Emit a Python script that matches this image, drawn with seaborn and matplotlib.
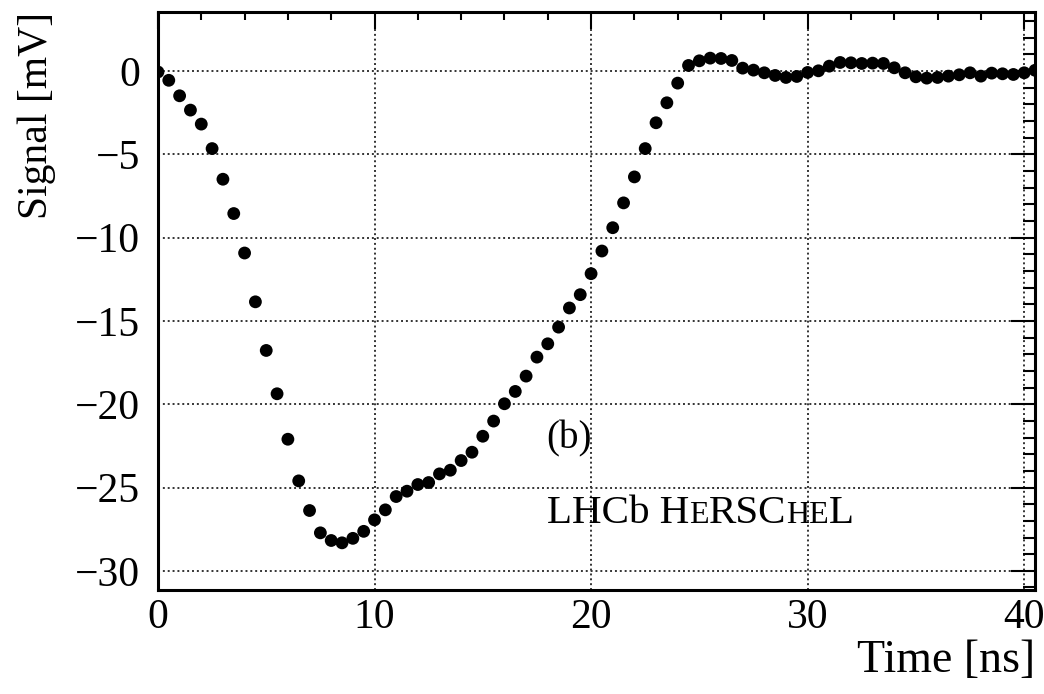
import matplotlib
matplotlib.use("Agg")
import matplotlib.pyplot as plt
from matplotlib.ticker import MultipleLocator
import seaborn as sns
import pandas as pd

# Digitised pulse: time (ns) and signal amplitude (mV)
time_ns = [
    0.0, 0.5, 1.0, 1.5, 2.0, 2.5, 3.0, 3.5, 4.0, 4.5,
    5.0, 5.5, 6.0, 6.5, 7.0, 7.5, 8.0, 8.5, 9.0, 9.5,
    10.0, 10.5, 11.0, 11.5, 12.0, 12.5, 13.0, 13.5, 14.0, 14.5,
    15.0, 15.5, 16.0, 16.5, 17.0, 17.5, 18.0, 18.5, 19.0, 19.5,
    20.0, 20.5, 21.0, 21.5, 22.0, 22.5, 23.0, 23.5, 24.0, 24.5,
    25.0, 25.5, 26.0, 26.5, 27.0, 27.5, 28.0, 28.5, 29.0, 29.5,
    30.0, 30.5, 31.0, 31.5, 32.0, 32.5, 33.0, 33.5, 34.0, 34.5,
    35.0, 35.5, 36.0, 36.5, 37.0, 37.5, 38.0, 38.5, 39.0, 39.5,
    40.0, 40.5,
]
signal_mv = [
    -0.05, -0.55, -1.48, -2.34, -3.18, -4.65, -6.49, -8.55, -10.92, -13.85,
    -16.77, -19.37, -22.10, -24.60, -26.38, -27.72, -28.18, -28.32, -28.05, -27.63,
    -26.94, -26.34, -25.54, -25.22, -24.82, -24.70, -24.18, -23.96, -23.38, -22.88,
    -21.92, -21.01, -19.97, -19.23, -18.31, -17.17, -16.37, -15.37, -14.22, -13.42,
    -12.16, -10.80, -9.40, -7.91, -6.35, -4.65, -3.10, -1.90, -0.72, 0.34,
    0.62, 0.78, 0.76, 0.64, 0.18, 0.06, -0.10, -0.26, -0.38, -0.32,
    -0.08, 0.02, 0.30, 0.52, 0.50, 0.46, 0.48, 0.46, 0.20, -0.10,
    -0.34, -0.42, -0.38, -0.30, -0.22, -0.10, -0.30, -0.12, -0.16, -0.20,
    -0.10, 0.05,
]

x_ticks = [0, 10, 20, 30, 40]
y_ticks = [0, -5, -10, -15, -20, -25, -30]
x_label = "Time [ns]"
y_label = "Signal [mV]"
panel_tag = "(b)"
# experiment name written in small capitals: (text, is_small)
experiment_parts = [("LHCb H", False), ("E", True), ("RSC", False),
                    ("HE", True), ("L", False)]

sns.set_style("white")
plt.rcParams["font.family"] = ["Liberation Serif", "DejaVu Serif"]
plt.rcParams.update({
    "text.color": "black",
    "axes.labelcolor": "black",
    "xtick.color": "black",
    "ytick.color": "black",
})

df = pd.DataFrame({"t": time_ns, "v": signal_mv})

fig = plt.figure(figsize=(10.44, 6.94), dpi=100)
ax = fig.add_axes([0.1513, 0.1499, 0.8401, 0.8328])

sns.scatterplot(data=df, x="t", y="v", ax=ax, color="black", s=85,
                edgecolor="none", linewidth=0, zorder=3)

ax.set_xlim(0, 40.5)
ax.set_ylim(-31.15, 3.55)
ax.set_xticks(x_ticks)
ax.set_yticks(y_ticks)
ax.xaxis.set_minor_locator(MultipleLocator(2))
ax.yaxis.set_minor_locator(MultipleLocator(1))

# ROOT-like frame: inward ticks on all four sides
ax.tick_params(which="both", direction="in", top=True, right=True,
               width=1.5, colors="black", labelsize=30, labelcolor="black")
ax.tick_params(axis="x", which="major", length=12, pad=6)
ax.tick_params(axis="x", which="minor", length=6)
ax.tick_params(axis="y", which="major", length=17, pad=13)
ax.tick_params(axis="y", which="minor", length=8.5)
for sp in ax.spines.values():
    sp.set_linewidth(2.2)
    sp.set_color("black")
    sp.set_visible(True)

ax.grid(True, which="major", color="0.2", linestyle=(0, (1.0, 1.5)),
        linewidth=1.4, zorder=1)
ax.set_axisbelow(True)

ax.set_xlabel(x_label, fontsize=33, loc="right", color="black")
ax.xaxis.set_label_coords(1.0, -0.122)
ax.xaxis.label.set_va("center")
ax.set_ylabel(y_label, fontsize=30, loc="top", color="black")
ax.yaxis.set_label_coords(-0.138, 1.0)
ax.yaxis.label.set_va("center")

ax.text(17.95, -22.1, panel_tag, fontsize=28, ha="left", va="center")

# small-caps experiment name, pieces chained along a common baseline
base_y = -27.1
prev = ax.text(17.95, base_y, experiment_parts[0][0], fontsize=29.5,
               ha="left", va="baseline")
for text, small in experiment_parts[1:]:
    prev = ax.annotate(text, xy=(1.0, base_y), xycoords=(prev, "data"),
                       fontsize=23 if small else 29.5,
                       ha="left", va="baseline")

fig.savefig("out.png", dpi=100)
